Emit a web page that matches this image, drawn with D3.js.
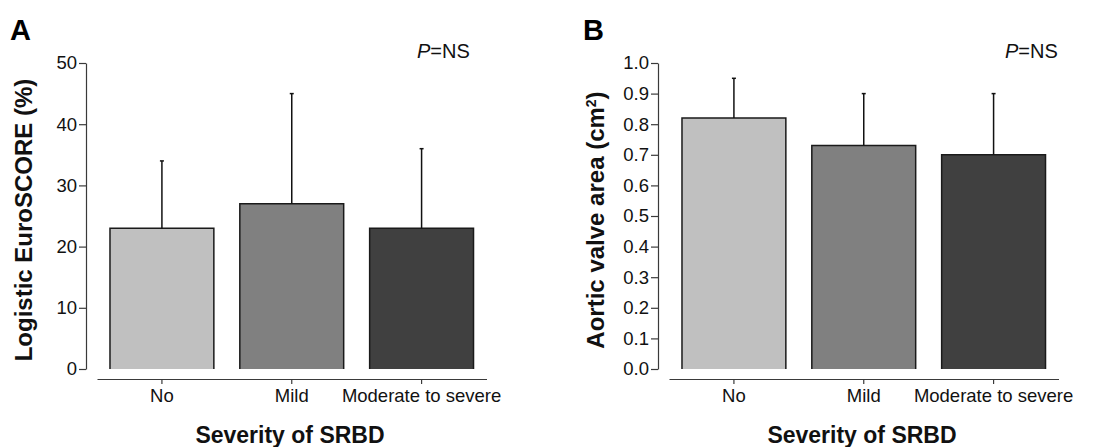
<!DOCTYPE html>
<html>
<head>
<meta charset="utf-8">
<script src="https://cdn.jsdelivr.net/npm/d3@7"></script>
<style>
  body { margin: 0; background: #fff; }
  svg { display: block; font-family: "Liberation Sans", Arial, sans-serif; }
  .tick text { font-size: 18.5px; fill: #111; }
</style>
</head>
<body>
<svg id="chart" width="1100" height="447"></svg>
<script>
// data
var categories = ["No", "Mild", "Moderate to severe"];
var barColors = ["#c0c0c0", "#808080", "#404040"];

var euroMeans = [23, 27, 23];
var euroSD = [11, 18, 13];
var euroTicks = [0, 10, 20, 30, 40, 50];

var avaMeans = [0.82, 0.73, 0.70];
var avaSD = [0.13, 0.17, 0.20];
var avaTicks = [0, 0.1, 0.2, 0.3, 0.4, 0.5, 0.6, 0.7, 0.8, 0.9, 1.0];

var svg = d3.select("#chart");

function drawPanel(opts) {
    var g = svg.append("g").attr("transform", "translate(" + opts.dx + ",0)");

    var x = d3.scaleBand().domain(categories)
        .range([97, 486.5]).paddingInner(0.2).paddingOuter(0.1);
    var y = d3.scaleLinear().domain([0, d3.max(opts.ticks)]).range([369, 63]);

    // y axis
    var yAxis = g.append("g").attr("transform", "translate(86,0)")
        .call(d3.axisLeft(y).tickValues(opts.ticks).tickFormat(opts.fmt)
            .tickSize(7).tickPadding(2).tickSizeOuter(0));
    yAxis.selectAll("path, line").attr("stroke", "#3a3a3a").attr("stroke-width", 1.2);
    yAxis.selectAll("text").attr("font-family", null);

    // x axis
    var xAxis = g.append("g").attr("transform", "translate(0,379)")
        .call(d3.axisBottom(x).tickSize(5).tickPadding(5).tickSizeOuter(0));
    xAxis.selectAll("path, line").attr("stroke", "#3a3a3a").attr("stroke-width", 1.2);
    xAxis.selectAll("text").attr("font-family", null);

    var rows = categories.map(function (c, i) {
        return { cat: c, mean: opts.means[i], sd: opts.sd[i], color: barColors[i] };
    });

    // bars (open at the bottom)
    g.selectAll("path.bar")
        .data(rows)
        .enter().append("path")
        .attr("class", "bar")
        .attr("fill", function (d) { return d.color; })
        .attr("stroke", "#1a1a1a")
        .attr("stroke-width", 1.5)
        .attr("d", function (d) {
            var x0 = x(d.cat), x1 = x(d.cat) + x.bandwidth();
            return "M" + x0 + "," + y(0) + "V" + y(d.mean) + "H" + x1 + "V" + y(0);
        });

    // upper error bars
    var err = g.selectAll("g.err").data(rows).enter().append("g").attr("class", "err");
    err.append("line")
        .attr("x1", function (d) { return x(d.cat) + x.bandwidth() / 2; })
        .attr("x2", function (d) { return x(d.cat) + x.bandwidth() / 2; })
        .attr("y1", function (d) { return y(d.mean); })
        .attr("y2", function (d) { return y(d.mean + d.sd); })
        .attr("stroke", "#111").attr("stroke-width", 1.5);
    err.append("line")
        .attr("x1", function (d) { return x(d.cat) + x.bandwidth() / 2 - 2; })
        .attr("x2", function (d) { return x(d.cat) + x.bandwidth() / 2 + 2; })
        .attr("y1", function (d) { return y(d.mean + d.sd); })
        .attr("y2", function (d) { return y(d.mean + d.sd); })
        .attr("stroke", "#111").attr("stroke-width", 1.5);

    // titles
    g.append("text")
        .attr("transform", "translate(" + opts.yTitleX + ",220) rotate(-90)")
        .attr("text-anchor", "middle")
        .attr("font-size", 24).attr("font-weight", "bold").attr("fill", "#111")
        .html(opts.yTitle);

    g.append("text")
        .attr("x", 290).attr("y", 443)
        .attr("text-anchor", "middle")
        .attr("font-size", 23).attr("font-weight", "bold").attr("fill", "#111")
        .text("Severity of SRBD");

    g.append("text")
        .attr("x", opts.letterX).attr("y", 40)
        .attr("font-size", 29).attr("font-weight", "bold").attr("fill", "#000")
        .text(opts.letter);

    var p = g.append("text")
        .attr("x", opts.pX).attr("y", 58)
        .attr("font-size", 20).attr("fill", "#111");
    p.append("tspan").attr("font-style", "italic").text("P");
    p.append("tspan").text("=NS");
}

drawPanel({
    dx: 0, letter: "A", letterX: 10, pX: 417, yTitleX: 32,
    yTitle: "Logistic EuroSCORE (%)",
    means: euroMeans, sd: euroSD, ticks: euroTicks, fmt: d3.format("d")
});

drawPanel({
    dx: 572, letter: "B", letterX: 11, pX: 433, yTitleX: 32,
    yTitle: "Aortic valve area (cm<tspan font-size='14' dy='-8'>2</tspan><tspan dy='8'>)</tspan>",
    means: avaMeans, sd: avaSD, ticks: avaTicks, fmt: d3.format(".1f")
});
</script>
</body>
</html>
